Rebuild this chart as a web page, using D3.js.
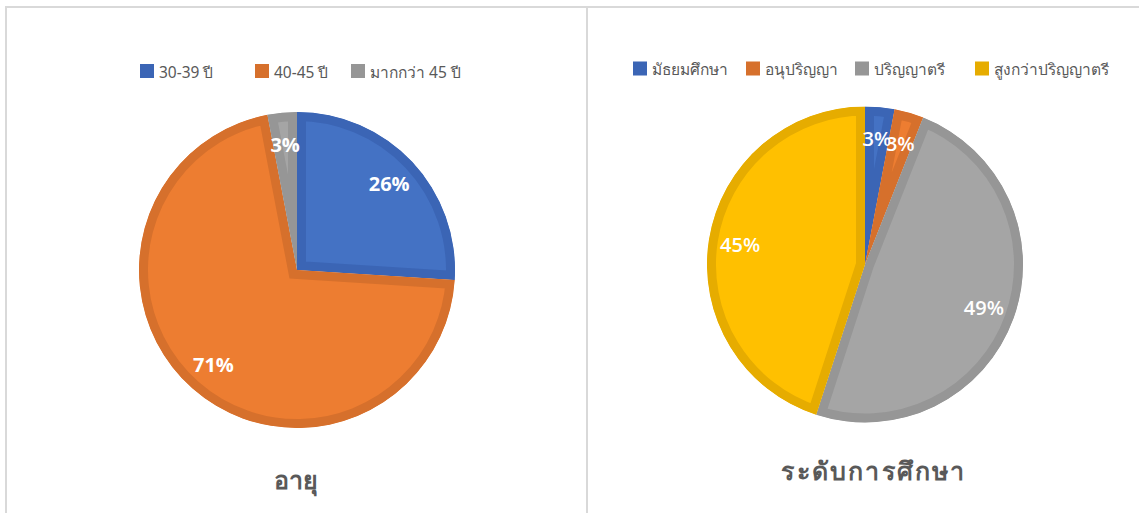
<!DOCTYPE html>
<html>
<head>
<meta charset="utf-8">
<script src="https://cdn.jsdelivr.net/npm/d3@7"></script>
<style>
  body { margin: 0; background: #fff; }
  svg { display: block; }
</style>
</head>
<body>
<div id="chart"></div>
<script>
const width = 1139, height = 513;

// อายุ
const ageLabels = ["30-39 ปี", "40-45 ปี", "มากกว่า 45 ปี"];
const ageValues = [26, 71, 3];

// ระดับการศึกษา
const eduLabels = ["มัธยมศึกษา", "อนุปริญญา", "ปริญญาตรี", "สูงกว่าปริญญาตรี"];
const eduValues = [3, 3, 49, 45];

const fills = ["#4472C4", "#ED7D31", "#A5A5A5", "#FFC000"];
const borders = ["#3B65B5", "#D6702C", "#969696", "#E6AC00"];

const thaiFont = "'Noto Sans', 'DejaVu Sans', sans-serif";
const labelFont = "'Open Sans', 'Noto Sans', sans-serif";

const svg = d3.select('#chart').append('svg')
    .attr('width', width)
    .attr('height', height);

// panel frames
svg.append('rect').attr('x', 6).attr('y', 7).attr('width', 581).attr('height', 530)
    .attr('fill', 'none').attr('stroke', '#d9d9d9').attr('stroke-width', 2);
svg.append('rect').attr('x', 587).attr('y', 7).attr('width', 570).attr('height', 530)
    .attr('fill', 'none').attr('stroke', '#d9d9d9').attr('stroke-width', 2);

const panels = [
    { id: 'age', labels: ageLabels, values: ageValues, cx: 297, cy: 270, r: 158,
      title: 'อายุ', titleX: 296, titleY: 489, titleSize: 25, spacing: 0,
      legendY: 71.5, legendX: [140, 255, 351], weight: 700 },
    { id: 'edu', labels: eduLabels, values: eduValues, cx: 865, cy: 264.5, r: 158,
      title: 'ระดับการศึกษา', titleX: 874, titleY: 480, titleSize: 25, spacing: 2.2,
      legendY: 69, legendX: [633, 746, 855, 975], weight: 600 }
];

panels.forEach(p => {
    const data = p.labels.map((name, i) => ({ name, value: p.values[i], i }));
    const pie = d3.pie().sort(null).value(d => d.value);
    const arcs = pie(data);
    const arc = d3.arc().innerRadius(0).outerRadius(p.r);
    const labelArc = d3.arc().innerRadius(p.r * 0.8).outerRadius(p.r * 0.8);

    const g = svg.append('g').attr('transform', `translate(${p.cx},${p.cy})`);

    const defs = svg.append('defs');
    arcs.forEach((a, i) => {
        defs.append('clipPath').attr('id', `clip-${p.id}-${i}`)
            .append('path').attr('d', arc(a));
    });

    // slices with an inner darker border
    g.selectAll('path.slice')
        .data(arcs)
        .enter().append('path')
        .attr('class', 'slice')
        .attr('d', arc)
        .attr('fill', d => fills[d.data.i])
        .attr('stroke', d => borders[d.data.i])
        .attr('stroke-width', 18)
        .attr('stroke-linejoin', 'miter')
        .attr('clip-path', (d, i) => `url(#clip-${p.id}-${i})`);

    // data labels
    g.selectAll('text.lbl')
        .data(arcs)
        .enter().append('text')
        .attr('class', 'lbl')
        .attr('transform', d => `translate(${labelArc.centroid(d)})`)
        .attr('text-anchor', 'middle')
        .attr('dominant-baseline', 'central')
        .style('font-family', labelFont)
        .style('font-size', '20px')
        .style('font-weight', p.weight)
        .style('fill', '#fff')
        .text(d => d.data.value + '%');

    // legend
    const lg = svg.append('g');
    const items = lg.selectAll('g')
        .data(data)
        .enter().append('g')
        .attr('transform', (d, i) => `translate(${p.legendX[i]},${p.legendY})`);
    items.append('rect')
        .attr('x', 0).attr('y', -7.5)
        .attr('width', 14).attr('height', 14)
        .attr('fill', d => borders[d.i]);
    items.append('text')
        .attr('x', 19)
        .attr('dominant-baseline', 'central')
        .style('font-family', thaiFont)
        .style('font-size', '15.5px')
        .style('fill', '#595959')
        .text(d => d.name);

    // title
    svg.append('text')
        .attr('x', p.titleX)
        .attr('y', p.titleY)
        .attr('text-anchor', 'middle')
        .style('font-family', thaiFont)
        .style('font-size', p.titleSize + 'px')
        .style('font-weight', 600)
        .style('letter-spacing', p.spacing + 'px')
        .style('fill', '#595959')
        .text(p.title);
});
</script>
</body>
</html>
